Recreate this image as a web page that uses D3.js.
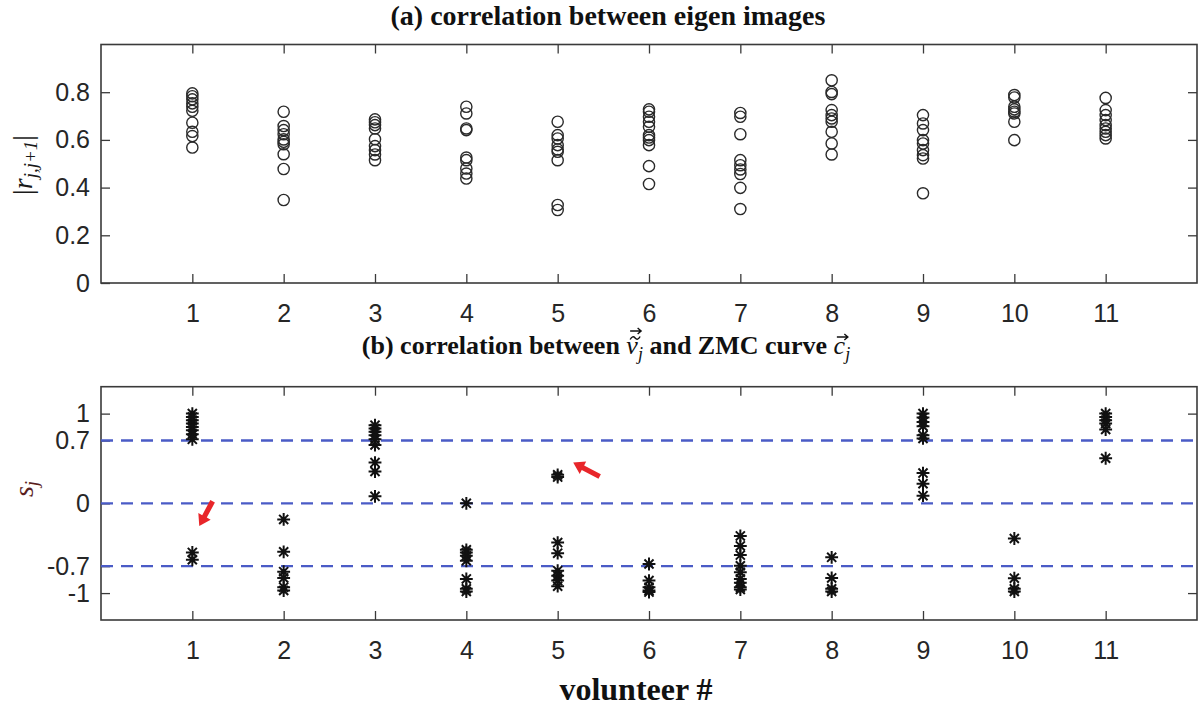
<!DOCTYPE html>
<html>
<head>
<meta charset="utf-8">
<script src="https://cdn.jsdelivr.net/npm/d3@7"></script>
<style>
  html, body { margin: 0; padding: 0; background: #fff; }
  svg { display: block; }
</style>
</head>
<body>
<script>
// Volunteers on the x axis
const volunteers = d3.range(1, 12);

// (a) |r_{j,j+1}| per volunteer
const eigenCorr = [
  [0.795, 0.783, 0.770, 0.753, 0.739, 0.722, 0.672, 0.634, 0.616, 0.568],
  [0.718, 0.658, 0.641, 0.624, 0.602, 0.592, 0.582, 0.540, 0.478, 0.348],
  [0.686, 0.674, 0.662, 0.648, 0.603, 0.574, 0.557, 0.539, 0.515],
  [0.739, 0.711, 0.648, 0.641, 0.526, 0.515, 0.480, 0.459, 0.438],
  [0.676, 0.620, 0.606, 0.578, 0.560, 0.550, 0.515, 0.327, 0.306],
  [0.728, 0.718, 0.697, 0.676, 0.655, 0.620, 0.610, 0.599, 0.578, 0.490, 0.415],
  [0.713, 0.697, 0.624, 0.515, 0.494, 0.476, 0.457, 0.399, 0.310],
  [0.850, 0.801, 0.792, 0.725, 0.704, 0.690, 0.676, 0.634, 0.585, 0.539],
  [0.704, 0.669, 0.641, 0.599, 0.585, 0.557, 0.536, 0.522, 0.376],
  [0.788, 0.778, 0.739, 0.728, 0.718, 0.711, 0.676, 0.599],
  [0.776, 0.725, 0.704, 0.683, 0.662, 0.648, 0.634, 0.620, 0.606]
];

// (b) s_j per volunteer
const zmcCorr = [
  [1.0, 0.962, 0.926, 0.889, 0.852, 0.815, 0.771, 0.713, -0.547, -0.629],
  [-0.179, -0.540, -0.761, -0.831, -0.934, -0.971],
  [0.871, 0.834, 0.797, 0.760, 0.713, 0.650, 0.454, 0.355, 0.078],
  [0.0, -0.518, -0.547, -0.584, -0.640, -0.842, -0.952, -0.982],
  [0.318, 0.293, -0.437, -0.555, -0.750, -0.806, -0.861, -0.923],
  [-0.676, -0.861, -0.934, -0.971, -0.989],
  [-0.363, -0.474, -0.577, -0.695, -0.768, -0.842, -0.886, -0.934, -0.960],
  [-0.602, -0.831, -0.952, -0.982],
  [1.0, 0.956, 0.907, 0.860, 0.760, 0.724, 0.337, 0.219, 0.086],
  [-0.392, -0.834, -0.952, -0.982],
  [1.0, 0.962, 0.926, 0.889, 0.823, 0.503]
];

// Tick values and reference levels
const rTicks = [0, 0.2, 0.4, 0.6, 0.8];
const sTicks = [-1, -0.7, 0, 0.7, 1];
const sThresholds = [-0.7, 0, 0.7];

// Red pointers in panel (b), in data units: [x, y] tail -> tip
const pointers = [
  { from: [1.222, 0.023], to: [1.076, -0.253] },
  { from: [5.46, 0.30], to: [5.17, 0.454] }
];

const W = 1199, H = 711;
const svg = d3.select("body").append("svg").attr("width", W).attr("height", H);

const FRAME = "#3a3a3a";
const TICKTXT = "#262626";
const tickFont = "'Liberation Sans', Arial, sans-serif";
const serif = "'Liberation Serif', 'Times New Roman', serif";

const x = d3.scaleLinear().domain([0, 12]).range([101, 1197]);
const yTop = d3.scaleLinear().domain([0, 1]).range([283, 44.5]);
const yBot = d3.scaleLinear().domain([-1.3, 1.3]).range([620, 386.7]);

const fmt = d => (d === 0 ? "0" : String(d));

function drawAxes(y, yTicks, showRightTicks) {
  const g = svg.append("g");
  const [y0, y1] = y.range();
  const [x0, x1] = x.range();

  const bottom = g.append("g").attr("transform", `translate(0,${y0})`)
    .call(d3.axisBottom(x).tickValues(volunteers).tickSizeInner(-9).tickSizeOuter(0).tickPadding(21));
  const top = g.append("g").attr("transform", `translate(0,${y1})`)
    .call(d3.axisTop(x).tickValues(volunteers).tickSizeInner(-9).tickSizeOuter(0).tickFormat(""));
  const left = g.append("g").attr("transform", `translate(${x0},0)`)
    .call(d3.axisLeft(y).tickValues(yTicks).tickSizeInner(-9).tickSizeOuter(0).tickPadding(11).tickFormat(fmt));
  const right = g.append("g").attr("transform", `translate(${x1},0)`)
    .call(d3.axisRight(y).tickValues(showRightTicks).tickSizeInner(-9).tickSizeOuter(0).tickFormat(""));

  [bottom, top, left, right].forEach(a => {
    a.select(".domain").remove();
    a.selectAll(".tick line").attr("stroke", FRAME).attr("stroke-width", 1.3);
    a.selectAll(".tick text").attr("fill", TICKTXT)
      .style("font-family", tickFont).style("font-size", "25px");
  });

  g.append("rect")
    .attr("x", x0).attr("y", y1)
    .attr("width", x1 - x0).attr("height", y0 - y1)
    .attr("fill", "none").attr("stroke", FRAME).attr("stroke-width", 1.6);
  return g;
}

// ---------- panel (a) ----------
drawAxes(yTop, rTicks, rTicks.filter(d => d > 0));

const topPts = eigenCorr.flatMap((vals, i) => vals.map(v => ({ vol: volunteers[i], v })));
svg.append("g").selectAll("circle").data(topPts).join("circle")
  .attr("cx", d => x(d.vol)).attr("cy", d => yTop(d.v)).attr("r", 5.6)
  .attr("fill", "none").attr("stroke", "#2a2a2a").attr("stroke-width", 1.4);

// ---------- panel (b) ----------
drawAxes(yBot, sTicks, [-1, 1]);

svg.append("g").selectAll("line").data(sThresholds).join("line")
  .attr("x1", x(0)).attr("x2", x(12))
  .attr("y1", d => yBot(d)).attr("y2", d => yBot(d))
  .attr("stroke", "#4a5bc6").attr("stroke-width", 2.4)
  .attr("stroke-dasharray", "12,8");

// MATLAB-style '*' marker: plus and cross combined
const starType = {
  draw(ctx, size) {
    const r = Math.sqrt(size) / 2;
    const d = r * Math.SQRT1_2;
    ctx.moveTo(-r, 0); ctx.lineTo(r, 0);
    ctx.moveTo(0, -r); ctx.lineTo(0, r);
    ctx.moveTo(-d, -d); ctx.lineTo(d, d);
    ctx.moveTo(-d, d); ctx.lineTo(d, -d);
  }
};
const star = d3.symbol().type(starType).size(165);

const botPts = zmcCorr.flatMap((vals, i) => vals.map(v => ({ vol: volunteers[i], v })));
svg.append("g").selectAll("path").data(botPts).join("path")
  .attr("transform", d => `translate(${x(d.vol)},${yBot(d.v)})`)
  .attr("d", star)
  .attr("fill", "none").attr("stroke", "#111").attr("stroke-width", 2);

// red pointers
function arrowPath(p0, p1) {
  const [ax, ay] = p0, [bx, by] = p1;
  const len = Math.hypot(bx - ax, by - ay);
  const ux = (bx - ax) / len, uy = (by - ay) / len;
  const nx = -uy, ny = ux;
  const head = 11, hw = 7, sw = 2.6;
  const hx = bx - ux * head, hy = by - uy * head;
  const p = d3.path();
  p.moveTo(ax + nx * sw, ay + ny * sw);
  p.lineTo(hx + nx * sw, hy + ny * sw);
  p.lineTo(hx + nx * hw, hy + ny * hw);
  p.lineTo(bx, by);
  p.lineTo(hx - nx * hw, hy - ny * hw);
  p.lineTo(hx - nx * sw, hy - ny * sw);
  p.lineTo(ax - nx * sw, ay - ny * sw);
  p.closePath();
  return p.toString();
}
svg.append("g").selectAll("path").data(pointers).join("path")
  .attr("d", d => arrowPath([x(d.from[0]), yBot(d.from[1])], [x(d.to[0]), yBot(d.to[1])]))
  .attr("fill", "#e8262a");

// ---------- titles and axis labels ----------
svg.append("text")
  .attr("x", 608).attr("y", 25).attr("text-anchor", "middle")
  .style("font-family", serif).style("font-weight", "bold").style("font-size", "28px")
  .attr("fill", "#111")
  .text("(a) correlation between eigen images");

const base = 354;
const tb = svg.append("text")
  .attr("x", 606).attr("y", base).attr("text-anchor", "middle")
  .style("font-family", serif).style("font-weight", "bold").style("font-size", "26px")
  .attr("fill", "#111");
tb.append("tspan").text("(b) correlation between ");
tb.append("tspan").attr("font-style", "italic").attr("font-weight", "normal").text("v");
tb.append("tspan").attr("font-style", "italic").attr("font-weight", "normal")
  .attr("font-size", "18px").attr("dy", 6).text("j");
tb.append("tspan").attr("dy", -6).text(" and ZMC curve ");
tb.append("tspan").attr("font-style", "italic").attr("font-weight", "normal").text("c");
tb.append("tspan").attr("font-style", "italic").attr("font-weight", "normal")
  .attr("font-size", "18px").attr("dy", 6).text("j");

// accents over the vector symbols
const tn = tb.node();
function charCenter(i) {
  const a = tn.getStartPositionOfChar(i).x, b = tn.getEndPositionOfChar(i).x;
  return (a + b) / 2 + 2;
}
function vecArrow(cx, y) {
  const p = d3.path();
  p.moveTo(cx - 5.5, y); p.lineTo(cx + 5.5, y);
  p.moveTo(cx + 2, y - 3); p.lineTo(cx + 5.5, y); p.lineTo(cx + 2, y + 3);
  return p.toString();
}
function tilde(cx, y) {
  const p = d3.path();
  p.moveTo(cx - 5, y + 1.5);
  p.quadraticCurveTo(cx - 2.5, y - 3, cx, y);
  p.quadraticCurveTo(cx + 2.5, y + 3, cx + 5, y - 1.5);
  return p.toString();
}
const vx = charCenter(24), cx = charCenter(41);
const acc = svg.append("g").attr("fill", "none").attr("stroke", "#111").attr("stroke-width", 1.4);
acc.append("path").attr("d", tilde(vx + 1, base - 16));
acc.append("path").attr("d", vecArrow(vx + 1.5, base - 23));
acc.append("path").attr("d", vecArrow(cx + 1, base - 17));

svg.append("text")
  .attr("x", 636).attr("y", 700).attr("text-anchor", "middle")
  .style("font-family", serif).style("font-weight", "bold").style("font-size", "32px")
  .attr("fill", "#111")
  .text("volunteer #");

const ry = svg.append("text")
  .attr("transform", "translate(32,165) rotate(-90)")
  .attr("text-anchor", "middle")
  .style("font-family", serif).style("font-size", "28px").attr("fill", "#1a1a1a");
ry.append("tspan").text("|");
ry.append("tspan").attr("font-style", "italic").text("r");
ry.append("tspan").attr("font-style", "italic").attr("font-size", "19px").attr("dy", 5).text("j,j+1");
ry.append("tspan").attr("dy", -5).text("|");

const sy = svg.append("text")
  .attr("transform", "translate(33,489) rotate(-90)")
  .attr("text-anchor", "middle")
  .style("font-family", serif).style("font-size", "28px").attr("fill", "#5a1e1e");
sy.append("tspan").attr("font-style", "italic").text("s");
sy.append("tspan").attr("font-style", "italic").attr("font-size", "19px").attr("dy", 5).text("j");
</script>
</body>
</html>
